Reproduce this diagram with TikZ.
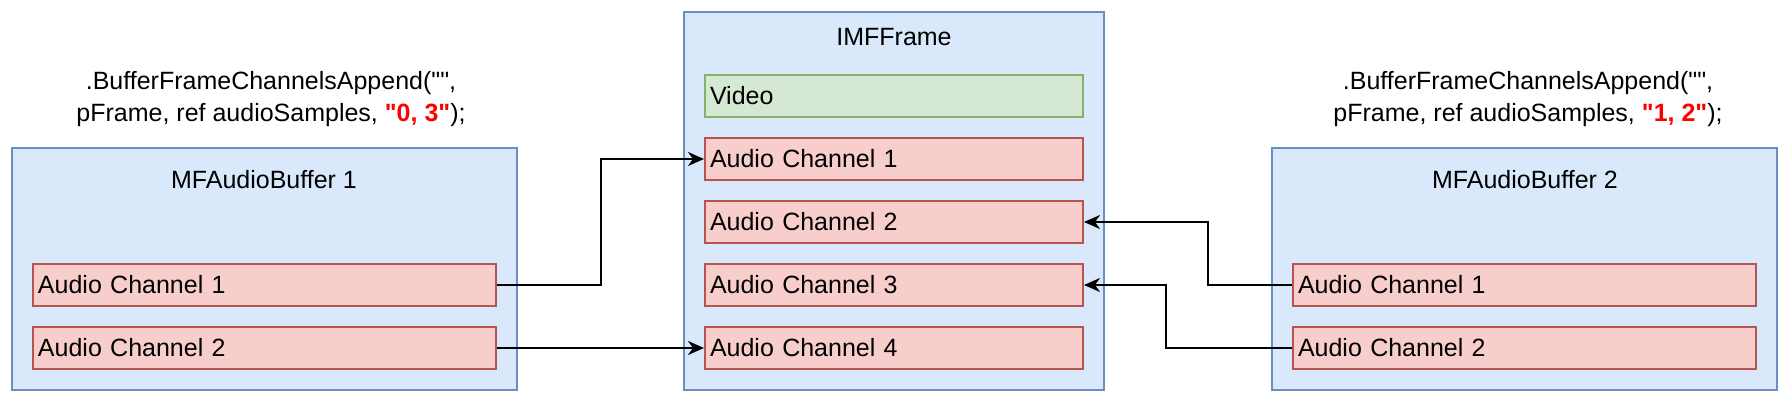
\documentclass[tikz,border=0pt]{standalone}
\usepackage{fontspec}
\setmainfont{Liberation Sans}[Ligatures=TeXOff]
\usepackage{xcolor}
\usepackage{tikz}
\usetikzlibrary{arrows.meta, positioning}

\definecolor{bufblue}{HTML}{DAE8FC}
\definecolor{bufline}{HTML}{6C8EBF}
\definecolor{chanred}{HTML}{F8CECC}
\definecolor{chanline}{HTML}{B85450}
\definecolor{vidgreen}{HTML}{D5E8D4}
\definecolor{vidline}{HTML}{82B366}

\tikzset{
    bufbox/.style={draw=bufline, fill=bufblue, line width=1pt, inner sep=0pt},
    chanbox/.style={draw=chanline, fill=chanred, line width=1pt, minimum height=21pt, inner xsep=2.5pt, inner ysep=0pt, text width=#1, align=left},
    vidbox/.style={chanbox=#1, draw=vidline, fill=vidgreen},
    conn/.style={-{Stealth[length=8pt, width=7pt, inset=2.5pt]}, line width=1pt}
}

\begin{document}
\begin{tikzpicture}[x=0.5pt, y=-0.5pt, font=\fontsize{12.5}{16}\selectfont]
\useasboundingbox (0,0) rectangle (1788,401);
% buffers and frame
\node[bufbox, minimum width=252.5pt, minimum height=121pt] (buf1) at (264.5,269) {};
\node[bufbox, minimum width=210pt, minimum height=189pt] (frame) at (894,201) {};
\node[bufbox, minimum width=252.5pt, minimum height=121pt] (buf2) at (1524.5,269) {};
\node (buf1title) at (264,180) {MFAudioBuffer 1};
\node (frametitle) at (894,37) {IMFFrame};
\node (buf2title) at (1525,180) {MFAudioBuffer 2};
% channels
\node[chanbox=226.5pt] (a1c1) at (264.5,285) {Audio Channel 1};
\node[chanbox=226.5pt] (a1c2) at (264.5,348) {Audio Channel 2};
\node[vidbox=184pt] (video) at (894,96) {Video};
\foreach \i/\y in {1/159, 2/222, 3/285, 4/348} {
    \node[chanbox=184pt] (fc\i) at (894,\y) {Audio Channel \i};
}
\node[chanbox=226.5pt] (b2c1) at (1524.5,285) {Audio Channel 1};
\node[chanbox=226.5pt] (b2c2) at (1524.5,348) {Audio Channel 2};
% calls
\node[align=center] (call1) at (271,99) {.BufferFrameChannelsAppend("",\\pFrame, ref audioSamples, \textcolor{red}{\textbf{"0, 3"}});};
\node[align=center] (call2) at (1528,99) {.BufferFrameChannelsAppend("",\\pFrame, ref audioSamples, \textcolor{red}{\textbf{"1, 2"}});};
% connectors
\draw[conn] (a1c1.east) -- ++(104,0) |- (fc1.west);
\draw[conn] (a1c2.east) -- (fc4.west);
\draw[conn] (b2c1.west) -- ++(-84,0) |- (fc2.east);
\draw[conn] (b2c2.west) -- ++(-126,0) |- (fc3.east);
\end{tikzpicture}
\end{document}
